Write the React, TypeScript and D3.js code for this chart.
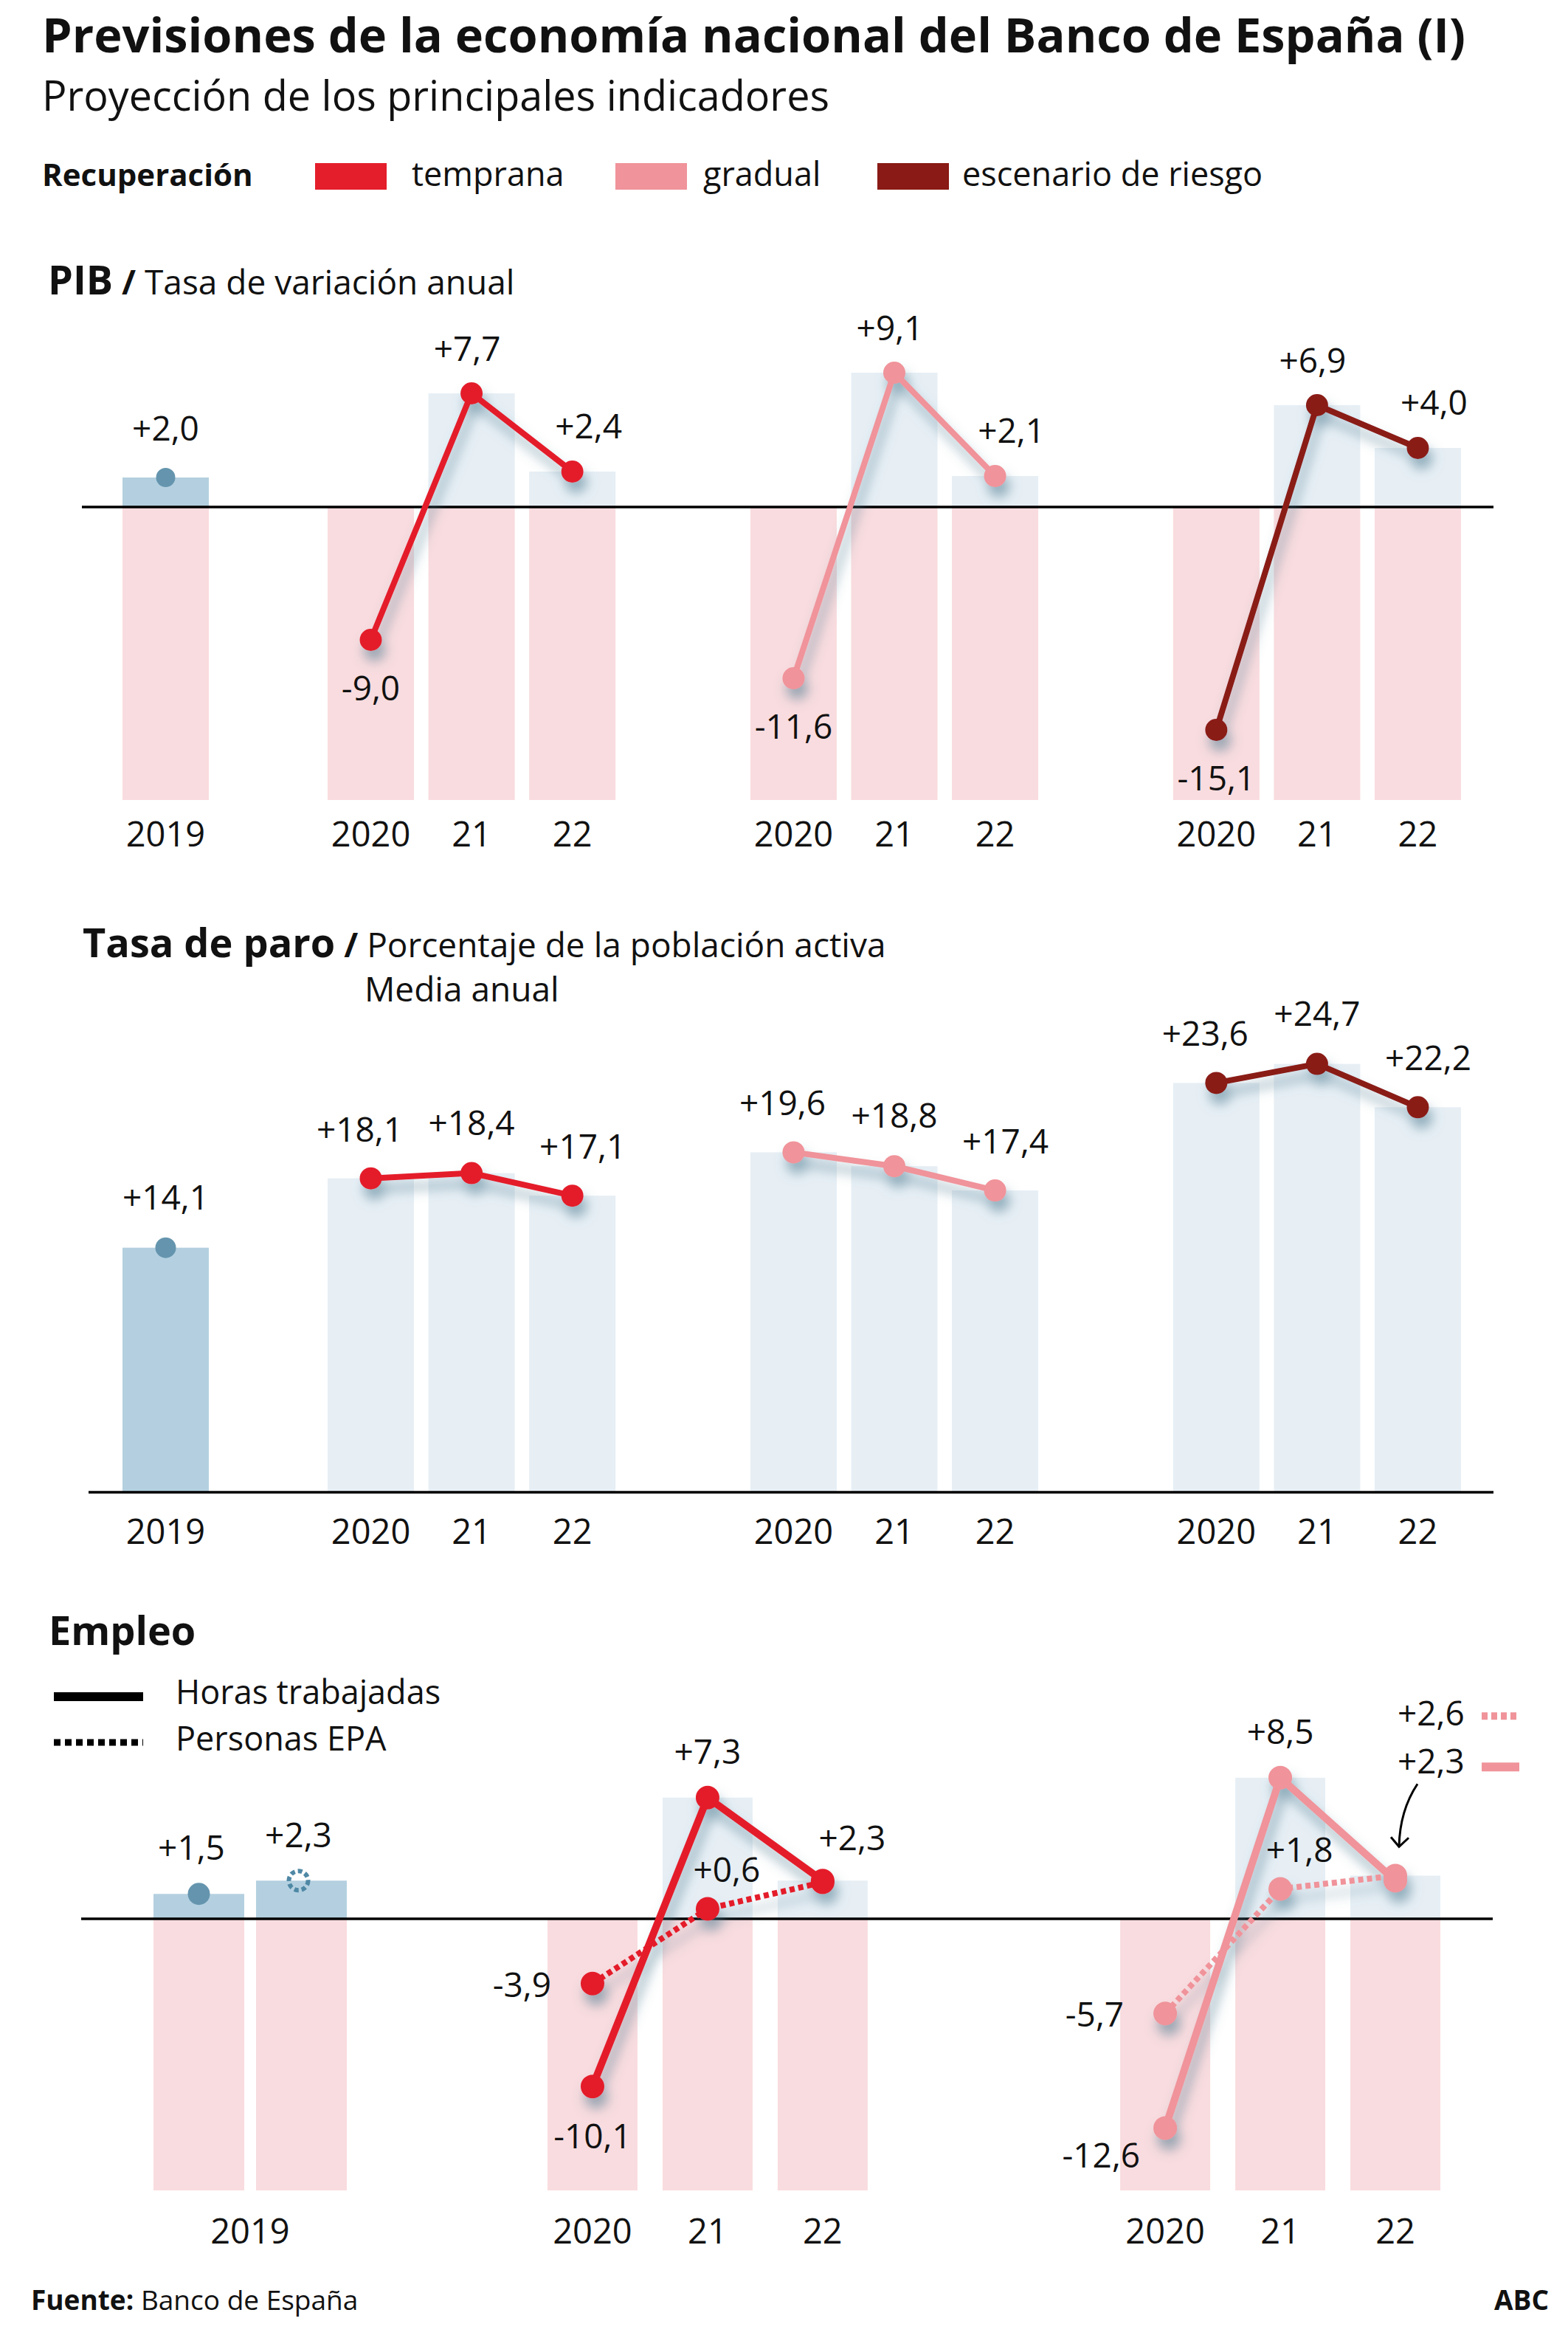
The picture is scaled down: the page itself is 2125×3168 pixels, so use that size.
import React from "react";
import * as d3 from "d3";

const W = 2125;
const H = 3168;

// ---------------- DATA ----------------
const scenarioKeys = ["temprana", "gradual", "riesgo"];
const scenarioLabels = ["temprana", "gradual", "escenario de riesgo"];
const years = ["2020", "21", "22"];

const pib2019 = 2.0;
const pibTemprana = [-9.0, 7.7, 2.4];
const pibGradual = [-11.6, 9.1, 2.1];
const pibRiesgo = [-15.1, 6.9, 4.0];

const paro2019 = 14.1;
const paroTemprana = [18.1, 18.4, 17.1];
const paroGradual = [19.6, 18.8, 17.4];
const paroRiesgo = [23.6, 24.7, 22.2];

const empleoSeries = ["Horas trabajadas", "Personas EPA"];
const empleo2019 = [1.5, 2.3];
const empleoScenarios = ["temprana", "gradual"];
const horasTemprana = [-10.1, 7.3, 2.3];
const personasTemprana = [-3.9, 0.6, 2.2];
const horasGradual = [-12.6, 8.5, 2.3];
const personasGradual = [-5.7, 1.8, 2.6];

// ---------------- STYLE ----------------
const FONT = "'Open Sans', 'Noto Sans', sans-serif";
const COLORS: Record<string, string> = {
  temprana: "#E41E2B",
  gradual: "#F0939A",
  riesgo: "#8A1A15",
};
const PINK = "#F9DCDF";
const LIGHTBLUE = "#E7EFF5";
const BLUE2019 = "#B4D0E0";
const DOT2019 = "#6595AE";
const LABEL_SIZE = 46;
const YEAR_SIZE = 47;

const fmt = (v: number) => (v > 0 ? "+" : "") + v.toFixed(1).replace(".", ",");

const pibSeries = [pibTemprana, pibGradual, pibRiesgo];
const paroSeries = [paroTemprana, paroGradual, paroRiesgo];
const horasSeries = [horasTemprana, horasGradual];
const personasSeries = [personasTemprana, personasGradual];

// ---------------- SCALES ----------------
const groupX = d3.scaleBand<string>().domain(scenarioKeys).range([444, 1980]).paddingInner(0.319).paddingOuter(0);
const yearX = d3.scaleBand<string>().domain(years).range([0, groupX.bandwidth()]).paddingInner(0.143).paddingOuter(0);
const x2019 = d3.scaleBand<string>().domain(["2019"]).range([166, 283]);

const pibY = d3.scaleLinear().domain([-19.85, 0]).range([1084, 687]);
const paroY = d3.scaleLinear().domain([0, 25]).range([2022, 1434.5]);

const empGroupX = d3.scaleBand<string>().domain(empleoScenarios).range([742, 1952]).paddingInner(0.441).paddingOuter(0);
const empYearX = d3.scaleBand<string>().domain(years).range([0, empGroupX.bandwidth()]).paddingInner(0.218).paddingOuter(0);
const emp2019X = d3.scaleBand<string>().domain(empleoSeries).range([208, 470]).paddingInner(0.115).paddingOuter(0);
const empY = d3.scaleLinear().domain([-16.36, 0]).range([2968, 2600]);

const cxMain = (s: string, y: string) => (groupX(s) as number) + (yearX(y) as number) + yearX.bandwidth() / 2;
const cxEmp = (s: string, y: string) => (empGroupX(s) as number) + (empYearX(y) as number) + empYearX.bandwidth() / 2;

const lineGen = d3.line<[number, number]>().x((d) => d[0]).y((d) => d[1]);

const T = (props: any) => <text fontFamily={FONT} fill="#111" {...props} />;

// label placement presets (offsets relative to point)
const OFF: Record<string, { dx: number; dy: number; anchor: string }> = {
  below: { dx: 0, dy: 84, anchor: "middle" },
  belowLeft: { dx: -34, dy: 54, anchor: "end" },
  above: { dx: 0, dy: -46, anchor: "middle" },
  aboveRight: { dx: 40, dy: -41, anchor: "middle" },
  aboveRightNear: { dx: 26, dy: -37, anchor: "middle" },
  left: { dx: -56, dy: 18, anchor: "end" },
};
const horasLabelSides = [
  ["below", "above", "aboveRight"],
  ["belowLeft", "above", ""],
];
const personasLabelSides = [
  ["left", "aboveRightNear", ""],
  ["left", "aboveRightNear", ""],
];

function PIB() {
  return (
    <g>
      <T x={65} y={399}>
        <tspan fontWeight={700} fontSize={54}>PIB</tspan>
        <tspan fontSize={46} fontWeight={700}> / </tspan>
        <tspan fontSize={46}>Tasa de variación anual</tspan>
      </T>
      {/* pink negative backgrounds */}
      <rect x={x2019("2019")} width={x2019.bandwidth()} y={pibY(0)} height={pibY(-19.85) - pibY(0)} fill={PINK} />
      {scenarioKeys.map((s) =>
        years.map((yr) => (
          <rect key={s + yr} x={(groupX(s) as number) + (yearX(yr) as number)} width={yearX.bandwidth()} y={pibY(0)} height={pibY(-19.85) - pibY(0)} fill={PINK} />
        ))
      )}
      {/* positive bars */}
      <rect x={x2019("2019")} width={x2019.bandwidth()} y={pibY(pib2019)} height={pibY(0) - pibY(pib2019)} fill={BLUE2019} />
      {scenarioKeys.map((s, si) =>
        years.map((yr, i) =>
          pibSeries[si][i] > 0 ? (
            <rect key={s + yr} x={(groupX(s) as number) + (yearX(yr) as number)} width={yearX.bandwidth()} y={pibY(pibSeries[si][i])} height={pibY(0) - pibY(pibSeries[si][i])} fill={LIGHTBLUE} />
          ) : null
        )
      )}
      <line x1={111} x2={2024} y1={pibY(0)} y2={pibY(0)} stroke="#000" strokeWidth={3.5} />
      {/* 2019 */}
      <circle cx={(x2019("2019") as number) + x2019.bandwidth() / 2} cy={pibY(pib2019)} r={13} fill={DOT2019} />
      <T x={(x2019("2019") as number) + x2019.bandwidth() / 2} y={pibY(pib2019) - 50} fontSize={LABEL_SIZE} textAnchor="middle">{fmt(pib2019)}</T>
      {scenarioKeys.map((s, si) => {
        const pts: [number, number][] = years.map((yr, i) => [cxMain(s, yr), pibY(pibSeries[si][i])]);
        return (
          <g key={s}>
            <g filter="url(#shadow)">
              <path d={lineGen(pts) as string} fill="none" stroke={COLORS[s]} strokeWidth={8} />
              {pts.map((p, i) => (
                <circle key={i} cx={p[0]} cy={p[1]} r={15} fill={COLORS[s]} />
              ))}
            </g>
            {pts.map((p, i) => {
              const dx = i === 0 ? 0 : i === 1 ? -6 : 22;
              const dy = i === 0 ? 82 : i === 1 ? -44 : -45;
              return (
                <T key={"l" + i} x={p[0] + dx} y={p[1] + dy} fontSize={LABEL_SIZE} textAnchor="middle">{fmt(pibSeries[si][i])}</T>
              );
            })}
          </g>
        );
      })}
      {/* year labels */}
      <T x={(x2019("2019") as number) + x2019.bandwidth() / 2} y={1147} fontSize={YEAR_SIZE} textAnchor="middle">2019</T>
      {scenarioKeys.map((s) =>
        years.map((yr) => (
          <T key={s + yr} x={cxMain(s, yr)} y={1147} fontSize={YEAR_SIZE} textAnchor="middle">{yr}</T>
        ))
      )}
    </g>
  );
}

function Paro() {
  return (
    <g>
      <T x={112} y={1297}>
        <tspan fontWeight={700} fontSize={54}>Tasa de paro</tspan>
        <tspan fontSize={46} fontWeight={700}> / </tspan>
        <tspan fontSize={46}>Porcentaje de la población activa</tspan>
      </T>
      <T x={494} y={1357} fontSize={46}>Media anual</T>
      <rect x={x2019("2019")} width={x2019.bandwidth()} y={paroY(paro2019)} height={paroY(0) - paroY(paro2019)} fill={BLUE2019} />
      {scenarioKeys.map((s, si) =>
        years.map((yr, i) => (
          <rect key={s + yr} x={(groupX(s) as number) + (yearX(yr) as number)} width={yearX.bandwidth()} y={paroY(paroSeries[si][i])} height={paroY(0) - paroY(paroSeries[si][i])} fill={LIGHTBLUE} />
        ))
      )}
      <line x1={120} x2={2024} y1={paroY(0)} y2={paroY(0)} stroke="#000" strokeWidth={3.5} />
      <circle cx={(x2019("2019") as number) + x2019.bandwidth() / 2} cy={paroY(paro2019)} r={14} fill={DOT2019} />
      <T x={(x2019("2019") as number) + x2019.bandwidth() / 2} y={paroY(paro2019) - 52} fontSize={LABEL_SIZE} textAnchor="middle">{fmt(paro2019)}</T>
      {scenarioKeys.map((s, si) => {
        const pts: [number, number][] = years.map((yr, i) => [cxMain(s, yr), paroY(paroSeries[si][i])]);
        return (
          <g key={s}>
            <g filter="url(#shadow)">
              <path d={lineGen(pts) as string} fill="none" stroke={COLORS[s]} strokeWidth={8} />
              {pts.map((p, i) => (
                <circle key={i} cx={p[0]} cy={p[1]} r={15} fill={COLORS[s]} />
              ))}
            </g>
            {pts.map((p, i) => {
              const dx = i === 0 ? -15 : i === 1 ? 0 : 14;
              const dy = i === 0 ? -50 : i === 1 ? -52 : -50;
              return (
                <T key={"l" + i} x={p[0] + dx} y={p[1] + dy} fontSize={LABEL_SIZE} textAnchor="middle">{fmt(paroSeries[si][i])}</T>
              );
            })}
          </g>
        );
      })}
      <T x={(x2019("2019") as number) + x2019.bandwidth() / 2} y={2092} fontSize={YEAR_SIZE} textAnchor="middle">2019</T>
      {scenarioKeys.map((s) =>
        years.map((yr) => (
          <T key={s + yr} x={cxMain(s, yr)} y={2092} fontSize={YEAR_SIZE} textAnchor="middle">{yr}</T>
        ))
      )}
    </g>
  );
}

function Empleo() {
  const gDot: [number, number] = [cxEmp("gradual", "22"), empY(horasGradual[2])];
  return (
    <g>
      <T x={66} y={2229} fontWeight={700} fontSize={54}>Empleo</T>
      {/* legend */}
      <line x1={73} x2={194} y1={2299} y2={2299} stroke="#000" strokeWidth={12} />
      <T x={238} y={2309} fontSize={45}>{empleoSeries[0]}</T>
      <line x1={73} x2={194} y1={2361} y2={2361} stroke="#000" strokeWidth={9} strokeDasharray="9 6" />
      <T x={238} y={2372} fontSize={45}>{empleoSeries[1]}</T>

      {/* pink backgrounds */}
      {empleoSeries.map((k) => (
        <rect key={k} x={emp2019X(k)} width={emp2019X.bandwidth()} y={empY(0)} height={empY(-16.36) - empY(0)} fill={PINK} />
      ))}
      {empleoScenarios.map((s) =>
        years.map((yr) => (
          <rect key={s + yr} x={(empGroupX(s) as number) + (empYearX(yr) as number)} width={empYearX.bandwidth()} y={empY(0)} height={empY(-16.36) - empY(0)} fill={PINK} />
        ))
      )}
      {/* positive bars */}
      {empleoSeries.map((k, i) => (
        <rect key={k} x={emp2019X(k)} width={emp2019X.bandwidth()} y={empY(empleo2019[i])} height={empY(0) - empY(empleo2019[i])} fill={BLUE2019} />
      ))}
      {empleoScenarios.map((s, si) =>
        years.map((yr, i) => {
          const v = Math.max(horasSeries[si][i], personasSeries[si][i]);
          return v > 0 ? (
            <rect key={s + yr} x={(empGroupX(s) as number) + (empYearX(yr) as number)} width={empYearX.bandwidth()} y={empY(v)} height={empY(0) - empY(v)} fill={LIGHTBLUE} />
          ) : null;
        })
      )}
      <line x1={110} x2={2023} y1={empY(0)} y2={empY(0)} stroke="#000" strokeWidth={3.5} />

      {/* 2019 */}
      {empleoSeries.map((k, i) => {
        const cx = (emp2019X(k) as number) + emp2019X.bandwidth() / 2;
        const cy = empY(empleo2019[i]);
        return (
          <g key={k}>
            {i === 0 ? (
              <circle cx={cx} cy={cy} r={15} fill={DOT2019} />
            ) : (
              <circle cx={cx - 4} cy={cy} r={13} fill="none" stroke="#4F88A5" strokeWidth={6} strokeDasharray="6 4" />
            )}
            <T x={cx - (i === 0 ? 10 : 4)} y={cy - (i === 0 ? 46 : 45)} fontSize={LABEL_SIZE} textAnchor="middle">{fmt(empleo2019[i])}</T>
          </g>
        );
      })}

      {empleoScenarios.map((s, si) => {
        const hp: [number, number][] = years.map((yr, i) => [cxEmp(s, yr), empY(horasSeries[si][i])]);
        const pp: [number, number][] = years.map((yr, i) => [cxEmp(s, yr), empY(personasSeries[si][i])]);
        return (
          <g key={s}>
            <g filter="url(#shadow)">
              <path d={lineGen(pp) as string} fill="none" stroke={COLORS[s]} strokeWidth={8} strokeDasharray="7 5" />
              <path d={lineGen(hp) as string} fill="none" stroke={COLORS[s]} strokeWidth={10} />
              {pp.map((p, i) => (
                <circle key={"p" + i} cx={p[0]} cy={p[1]} r={16} fill={COLORS[s]} />
              ))}
              {hp.map((p, i) => (
                <circle key={"h" + i} cx={p[0]} cy={p[1]} r={16} fill={COLORS[s]} />
              ))}
            </g>
            {hp.map((p, i) => {
              const o = OFF[horasLabelSides[si][i]];
              return o ? (
                <T key={"hl" + i} x={p[0] + o.dx} y={p[1] + o.dy} fontSize={LABEL_SIZE} textAnchor={o.anchor}>{fmt(horasSeries[si][i])}</T>
              ) : null;
            })}
            {pp.map((p, i) => {
              const o = OFF[personasLabelSides[si][i]];
              return o ? (
                <T key={"pl" + i} x={p[0] + o.dx} y={p[1] + o.dy} fontSize={LABEL_SIZE} textAnchor={o.anchor}>{fmt(personasSeries[si][i])}</T>
              ) : null;
            })}
          </g>
        );
      })}

      {/* side legend for gradual 2022 */}
      <T x={gDot[0] + 3} y={gDot[1] - 210} fontSize={LABEL_SIZE}>{fmt(personasGradual[2])}</T>
      <line x1={gDot[0] + 117} x2={gDot[0] + 168} y1={gDot[1] - 223} y2={gDot[1] - 223} stroke={COLORS.gradual} strokeWidth={10} strokeDasharray="8 5" />
      <T x={gDot[0] + 3} y={gDot[1] - 145} fontSize={LABEL_SIZE}>{fmt(horasGradual[2])}</T>
      <line x1={gDot[0] + 117} x2={gDot[0] + 168} y1={gDot[1] - 154} y2={gDot[1] - 154} stroke={COLORS.gradual} strokeWidth={12} />
      <path d={`M${gDot[0] + 30},${gDot[1] - 131} Q${gDot[0] + 6},${gDot[1] - 95} ${gDot[0] + 5},${gDot[1] - 46}`} fill="none" stroke="#000" strokeWidth={3} />
      <path d={`M${gDot[0] - 6},${gDot[1] - 59} L${gDot[0] + 5},${gDot[1] - 46} L${gDot[0] + 18},${gDot[1] - 58}`} fill="none" stroke="#000" strokeWidth={3} />

      {/* year labels */}
      <T x={(emp2019X.range()[0] + emp2019X.range()[1]) / 2} y={3040} fontSize={YEAR_SIZE} textAnchor="middle">2019</T>
      {empleoScenarios.map((s) =>
        years.map((yr) => (
          <T key={s + yr} x={cxEmp(s, yr)} y={3040} fontSize={YEAR_SIZE} textAnchor="middle">{yr}</T>
        ))
      )}
    </g>
  );
}

export default function App() {
  const legendX = [427, 834, 1189];
  const legendTextX = [558, 953, 1304];
  return (
    <svg width={W} height={H} viewBox={`0 0 ${W} ${H}`} style={{ position: "absolute", left: 0, top: 0, background: "#fff" }}>
      <defs>
        <filter id="shadow" filterUnits="userSpaceOnUse" x={0} y={0} width={W} height={H}>
          <feDropShadow dx={5} dy={14} stdDeviation={8} floodColor="#4d7a8f" floodOpacity={0.55} />
        </filter>
      </defs>
      <rect x={0} y={0} width={W} height={H} fill="#fff" />
      <T x={57} y={71} fontSize={64} fontWeight={700} textLength={1929} lengthAdjust="spacingAndGlyphs">
        Previsiones de la economía nacional del Banco de España (I)
      </T>
      <T x={57} y={150} fontSize={56} textLength={1067} lengthAdjust="spacingAndGlyphs">
        Proyección de los principales indicadores
      </T>
      <T x={57} y={252} fontSize={42} fontWeight={700}>Recuperación</T>
      {scenarioKeys.map((s, i) => (
        <g key={s}>
          <rect x={legendX[i]} y={221} width={97} height={36} fill={COLORS[s]} />
          <T x={legendTextX[i]} y={252} fontSize={45}>{scenarioLabels[i]}</T>
        </g>
      ))}
      <PIB />
      <Paro />
      <Empleo />
      <T x={42} y={3130} fontSize={37}>
        <tspan fontWeight={700}>Fuente:</tspan> Banco de España
      </T>
      <T x={2099} y={3130} fontSize={37} fontWeight={700} textAnchor="end">ABC</T>
    </svg>
  );
}
